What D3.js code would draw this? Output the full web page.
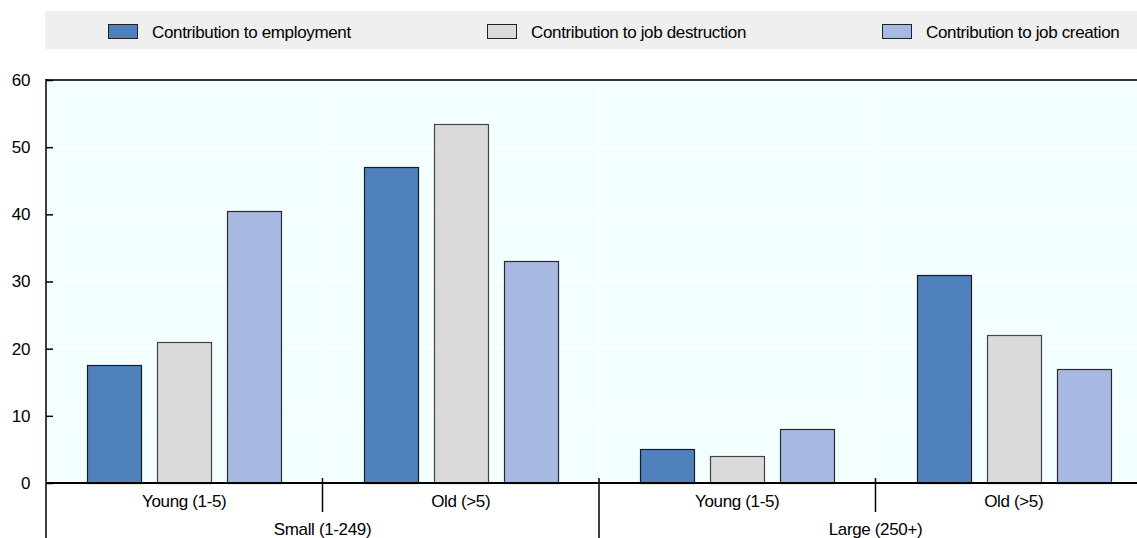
<!DOCTYPE html>
<html><head><meta charset="utf-8">
<script src="https://cdn.jsdelivr.net/npm/d3@7"></script>
<style>body{margin:0;background:#fff;} text{font-family:"Liberation Sans",Arial,sans-serif;letter-spacing:-0.35px;}</style>
</head><body>
<svg id="c" width="1137" height="538"></svg>
<script>
const groups = ["Small (1-249)", "Large (250+)"];
const ages = ["Young (1-5)", "Old (>5)"];
const categories = ["Small|Young", "Small|Old", "Large|Young", "Large|Old"];
const categoryLabels = ["Young (1-5)", "Old (>5)", "Young (1-5)", "Old (>5)"];
const seriesNames = ["Contribution to employment", "Contribution to job destruction", "Contribution to job creation"];
const employment = [17.5, 47, 5, 31];
const destruction = [21, 53.5, 4, 22];
const creation = [40.5, 33, 8, 17];
const yTicks = [0, 10, 20, 30, 40, 50, 60];
const colors = ["#4f81bd", "#dadada", "#a7b8e2"];
const strokes = ["#1a1a1a", "#444", "#2a2a2a"];

const series = [employment, destruction, creation];
const svg = d3.select("#c");
const L = 46, R = 1152, T = 80, B = 483;
const FS = 17;

const x0 = d3.scaleBand().domain(categories).range([L, R]).padding(0);
const x1 = d3.scaleBand().domain(d3.range(3)).range([0, x0.bandwidth()]).paddingInner(0.2286).paddingOuter(0.589);
const y = d3.scaleLinear().domain([0, 60]).range([B, T]);

// legend band
svg.append("rect").attr("x", 45).attr("y", 11).attr("width", 1100).attr("height", 38).attr("fill", "#efefef");
const legX = [108, 487, 882];
seriesNames.forEach((n, i) => {
  svg.append("rect").attr("x", legX[i] + 0.5).attr("y", 24.5).attr("width", 29).attr("height", 14)
    .attr("fill", colors[i]).attr("stroke", "#222").attr("stroke-width", 1);
  svg.append("text").attr("x", legX[i] + 44).attr("y", 38).attr("font-size", FS).attr("fill", "#000").text(n);
});

// plot background
svg.append("rect").attr("x", L).attr("y", T).attr("width", R - L).attr("height", B - T).attr("fill", "#f3ffff");
// gridlines
svg.append("g").selectAll("line").data(yTicks.filter(t => t > 0 && t < 60)).join("line")
  .attr("x1", L).attr("x2", R).attr("y1", d => y(d)).attr("y2", d => y(d))
  .attr("stroke", "#fff").attr("stroke-width", 1.5);
svg.append("g").selectAll("line").data(categories.slice(1)).join("line")
  .attr("x1", d => x0(d)).attr("x2", d => x0(d)).attr("y1", T).attr("y2", B)
  .attr("stroke", "#fff").attr("stroke-width", 1.5);
// top border
svg.append("line").attr("x1", L).attr("x2", R).attr("y1", T).attr("y2", T).attr("stroke", "#333").attr("stroke-width", 2);

// bars
categories.forEach((c, ci) => {
  series.forEach((s, si) => {
    const v = s[ci];
    svg.append("rect")
      .attr("x", Math.round(x0(c) + x1(si)) + 0.5)
      .attr("y", Math.round(y(v)) + 0.5)
      .attr("width", Math.round(x1.bandwidth()))
      .attr("height", Math.round(y(0)) - Math.round(y(v)))
      .attr("fill", colors[si]).attr("stroke", strokes[si]).attr("stroke-width", 1.2);
  });
});

// y axis
const ya = svg.append("g").attr("transform", `translate(${L},0)`)
  .call(d3.axisRight(y).tickValues(yTicks).tickSize(7).tickFormat(d3.format("d")));
ya.select(".domain").remove();
ya.selectAll(".tick line").attr("stroke", "#000").attr("stroke-width", 1.5);
ya.selectAll(".tick text").attr("x", -16).attr("text-anchor", "end").attr("font-size", FS)
  .attr("fill", "#000").attr("font-family", "Liberation Sans, Arial, sans-serif");
svg.append("line").attr("x1", L).attr("x2", L).attr("y1", T - 1).attr("y2", 538).attr("stroke", "#000").attr("stroke-width", 1.5);

// x axis
svg.append("line").attr("x1", L).attr("x2", R).attr("y1", B).attr("y2", B).attr("stroke", "#000").attr("stroke-width", 2);
categories.forEach((c, i) => {
  svg.append("text").attr("x", x0(c) + x0.bandwidth() / 2).attr("y", 507).attr("text-anchor", "middle")
    .attr("font-size", FS).attr("fill", "#000").text(categoryLabels[i]);
});
// separators between young/old
[1, 3].forEach(i => {
  const xx = x0(categories[i]);
  svg.append("line").attr("x1", xx).attr("x2", xx).attr("y1", 478).attr("y2", 512).attr("stroke", "#000").attr("stroke-width", 1.5);
});
// separator between size groups
{
  const xx = x0(categories[2]);
  svg.append("line").attr("x1", xx).attr("x2", xx).attr("y1", 478).attr("y2", 538).attr("stroke", "#000").attr("stroke-width", 1.5);
}
groups.forEach((g, gi) => {
  const cx = (x0(categories[gi * 2]) + x0(categories[gi * 2 + 1]) + x0.bandwidth()) / 2;
  svg.append("text").attr("x", cx).attr("y", 535).attr("text-anchor", "middle")
    .attr("font-size", FS).attr("fill", "#000").text(g);
});
</script>
</body></html>
